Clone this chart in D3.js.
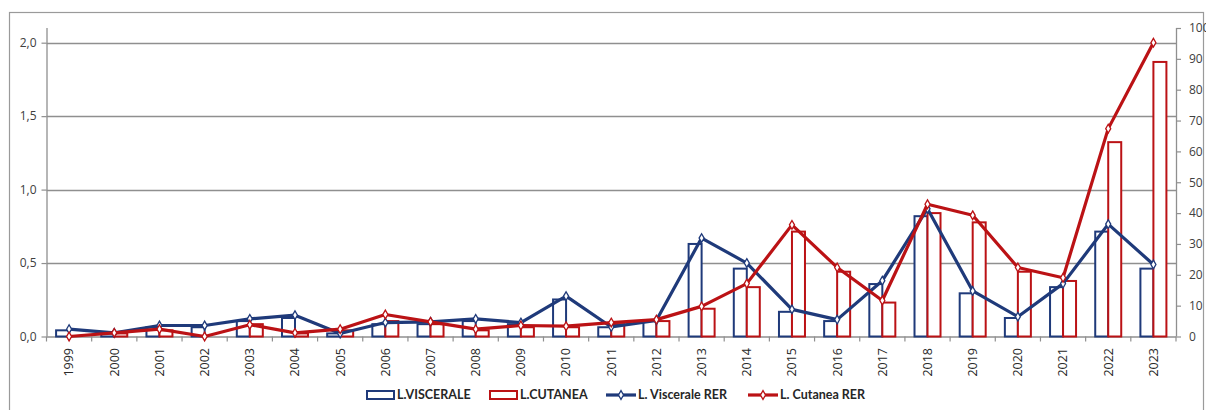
<!DOCTYPE html>
<html><head><meta charset="utf-8">
<script src="https://cdn.jsdelivr.net/npm/d3@7"></script>
<style>body{margin:0;background:#fff}svg{display:block}</style>
</head><body>
<svg id="c" width="1206" height="410"></svg>
<script>
const years = ["1999","2000","2001","2002","2003","2004","2005","2006","2007","2008","2009","2010","2011","2012","2013","2014","2015","2016","2017","2018","2019","2020","2021","2022","2023"];
const viscCount = [2,1,3,3,5,6,1,4,4,5,4,12,3,5,30,22,8,5,17,39,14,6,16,34,22];
const cutCount  = [0,1,2,0,4,1,2,5,4,2,3,3,4,5,9,16,34,21,11,40,37,21,18,63,89];
const viscRate  = [0.05,0.025,0.075,0.075,0.12,0.145,0.02,0.095,0.10,0.12,0.095,0.275,0.065,0.11,0.67,0.50,0.185,0.115,0.38,0.87,0.31,0.135,0.36,0.765,0.49];
const cutRate   = [0,0.025,0.05,0,0.08,0.025,0.05,0.15,0.10,0.05,0.075,0.07,0.095,0.115,0.205,0.36,0.76,0.47,0.245,0.90,0.825,0.47,0.40,1.415,2.0];
const leftTicks = [0,0.5,1.0,1.5,2.0];
const rightTicks = [0,10,20,30,40,50,60,70,80,90,100];
const legendLabels = ["L.VISCERALE","L.CUTANEA","L. Viscerale RER","L. Cutanea RER"];

const BLUE = "#1f3a7a", RED = "#bb1215", GRID = "#8f8f8f", TXT = "#404040";
const svg = d3.select("#c");
const L = 46.5, R = 1176, T = 28, B = 336.5;
const x = d3.scaleBand().domain(years).range([L, R]).padding(0);
const yL = d3.scaleLinear().domain([0, 2.1]).range([B, T]);
const yR = d3.scaleLinear().domain([0, 100]).range([B, T]);

// outer border
svg.append("rect").attr("x",9.5).attr("y",12.5).attr("width",1194).attr("height",420)
  .attr("fill","none").attr("stroke","#9a9a9a").attr("stroke-width",1.2);

// gridlines
svg.append("g").selectAll("line").data(leftTicks.filter(d=>d>0)).join("line")
  .attr("x1",L).attr("x2",R).attr("y1",d=>Math.round(yL(d))+0.5).attr("y2",d=>Math.round(yL(d))+0.5)
  .attr("stroke",GRID).attr("stroke-width",1.3);

const fmt = d => d3.format(".1f")(d).replace(".", ",");
// left axis
const gl = svg.append("g").attr("transform",`translate(${L},0)`)
  .call(d3.axisLeft(yL).tickValues(leftTicks).tickFormat(fmt).tickSize(5).tickPadding(5));
// right axis
const gr = svg.append("g").attr("transform",`translate(${R},0)`)
  .call(d3.axisRight(yR).tickValues(rightTicks).tickSize(5).tickPadding(8));
// x axis
const gx = svg.append("g").attr("transform",`translate(0,${B})`)
  .call(d3.axisBottom(x).tickSize(0).tickPadding(10));
gx.selectAll("text").attr("transform","rotate(-90)").attr("text-anchor","end")
  .attr("dx","-0.6em").attr("dy","0.35em").attr("y",0).attr("x",-4);
svg.append("g").selectAll("line").data(d3.range(years.length+1)).join("line")
  .attr("x1",i=>L + i*x.bandwidth()).attr("x2",i=>L + i*x.bandwidth())
  .attr("y1",B).attr("y2",B+5).attr("stroke",GRID).attr("stroke-width",1.2);

[gl,gr,gx].forEach(g=>{
  g.select(".domain").attr("stroke",GRID).attr("stroke-width",1.3);
  g.selectAll(".tick line").attr("stroke",GRID).attr("stroke-width",1.2);
  g.selectAll("text").attr("fill",TXT).style("font-family","'Open Sans', sans-serif").style("font-size","12px");
});
gx.selectAll("text").attr("fill","#2a2a2a").style("font-size","12.5px");
gl.select(".domain").attr("d",`M0.5,${T}V${B}`);
gr.select(".domain").attr("d",`M0.5,${T}V${B}`);
gx.select(".domain").attr("d",`M${L},0.5H${R}`);

// bars
const bw = 13;
const bars = svg.append("g");
bars.selectAll(".bv").data(years).join("rect")
  .attr("x",(d)=>x(d)+x.bandwidth()/2-bw).attr("width",bw)
  .attr("y",(d,i)=>yR(viscCount[i])).attr("height",(d,i)=>B-yR(viscCount[i]))
  .attr("fill","#fff").attr("stroke",BLUE).attr("stroke-width",2);
bars.selectAll(".bc").data(years).join("rect")
  .attr("x",(d)=>x(d)+x.bandwidth()/2).attr("width",bw)
  .attr("y",(d,i)=>yR(cutCount[i])).attr("height",(d,i)=>B-yR(cutCount[i]))
  .attr("fill","#fff").attr("stroke",RED).attr("stroke-width",2);

// lines
const cx = d => x(d)+x.bandwidth()/2;
const line = arr => d3.line().x((d)=>cx(d)).y((d,i)=>yL(arr[i]));
function series(arr,color){
  svg.append("path").datum(years).attr("d",line(arr)).attr("fill","none")
    .attr("stroke",color).attr("stroke-width",3.2).attr("stroke-linejoin","round");
  svg.append("g").selectAll("path").data(years).join("path")
    .attr("transform",(d,i)=>`translate(${cx(d)},${yL(arr[i])})`)
    .attr("d",d3.symbol(d3.symbolDiamond,22)).attr("fill","#fff").attr("stroke",color).attr("stroke-width",1.3);
}
series(viscRate,BLUE);
series(cutRate,RED);

// legend
const lg = svg.append("g").style("font-family","Lato, 'Open Sans', sans-serif").style("font-size","12.5px").style("font-weight","bold");
const ly = 395;
const items = [
  {type:"bar",color:BLUE,x:367,tx:397},
  {type:"bar",color:RED,x:490,tx:520},
  {type:"line",color:BLUE,x:606,tx:638},
  {type:"line",color:RED,x:748,tx:780}
];
items.forEach((it,i)=>{
  if(it.type==="bar"){
    lg.append("rect").attr("x",it.x).attr("y",ly-4).attr("width",27).attr("height",8)
      .attr("fill","#fff").attr("stroke",it.color).attr("stroke-width",2);
  } else {
    lg.append("line").attr("x1",it.x).attr("x2",it.x+30).attr("y1",ly).attr("y2",ly)
      .attr("stroke",it.color).attr("stroke-width",3.2);
    lg.append("path").attr("transform",`translate(${it.x+15},${ly})`)
      .attr("d",d3.symbol(d3.symbolDiamond,22)).attr("fill","#fff").attr("stroke",it.color).attr("stroke-width",1.3);
  }
  lg.append("text").attr("x",it.tx).attr("y",ly).attr("dy","0.35em").attr("fill","#262626").text(legendLabels[i]);
});
</script>
</body></html>
